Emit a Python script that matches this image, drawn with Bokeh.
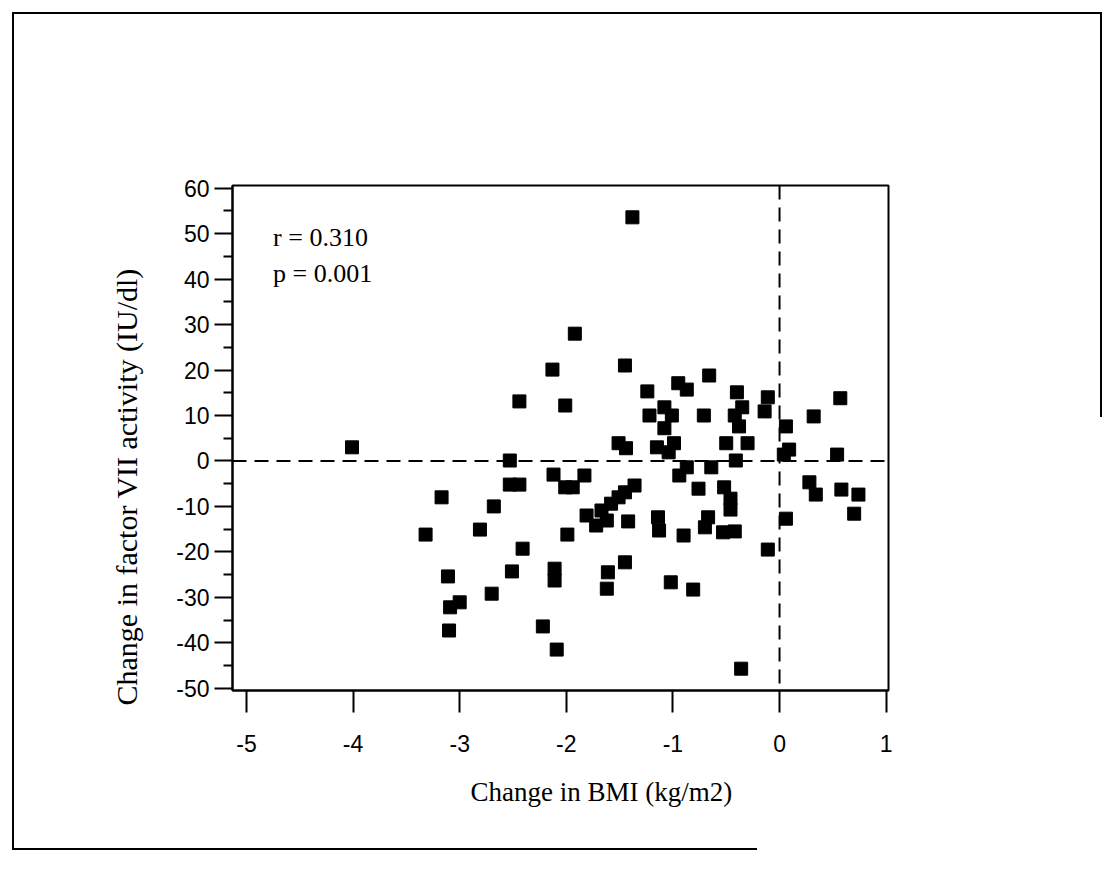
import math
from bokeh.plotting import figure
from bokeh.models import Span, Label, FixedTicker, InlineStyleSheet, Title
from bokeh.embed import file_html
from bokeh.resources import INLINE

# ---- data ----
bmi_change = [
    -1.38, -1.92, -2.13, -1.45, -2.44, -2.01, -1.24, -0.95, -0.87, -1.22,
    -1.08, -1.01, -1.08, -0.66, -0.40, -0.35, -0.42, -0.38, -0.11, -0.14,
    0.06, 0.32, 0.57, -0.71, -4.01, -2.53, -2.53, -2.44, -3.17, -2.68,
    -3.32, -2.81, -3.11, -2.70, -3.00, -3.09, -3.10, -2.41, -2.51, -2.12,
    -1.83, -2.01, -1.94, -1.51, -1.44, -1.15, -1.04, -0.99, -0.87, -0.94,
    -0.76, -1.36, -1.45, -1.51, -1.58, -1.67, -1.81, -1.72, -1.62, -1.42,
    -1.99, -1.14, -1.13, -0.90, -2.11, -2.11, -1.45, -1.61, -1.62, -1.02,
    -0.81, -2.22, -2.09, -0.50, -0.30, -0.41, -0.64, 0.09, 0.04, 0.54,
    -0.52, -0.46, -0.46, 0.28, 0.34, 0.58, 0.74, 0.70, 0.06, -0.67,
    -0.70, -0.53, -0.42, -0.11, -0.36,
]
f7_change = [
    53.6, 28.0, 20.1, 21.0, 13.1, 12.2, 15.3, 17.1, 15.7, 10.0,
    11.8, 10.0, 7.2, 18.8, 15.1, 11.8, 10.0, 7.6, 14.0, 10.9,
    7.6, 9.8, 13.8, 10.0, 3.0, 0.1, -5.2, -5.2, -8.0, -10.0,
    -16.2, -15.1, -25.4, -29.2, -31.1, -32.2, -37.3, -19.3, -24.3, -3.0,
    -3.2, -5.8, -5.8, 3.9, 2.8, 3.0, 1.9, 3.9, -1.4, -3.2,
    -6.1, -5.4, -6.9, -8.0, -9.4, -10.9, -12.0, -14.2, -13.1, -13.3,
    -16.2, -12.4, -15.3, -16.4, -23.7, -26.3, -22.3, -24.5, -28.1, -26.7,
    -28.3, -36.4, -41.5, 3.9, 3.9, 0.1, -1.4, 2.5, 1.4, 1.4,
    -5.8, -8.3, -10.7, -4.7, -7.4, -6.3, -7.4, -11.6, -12.7, -12.4,
    -14.6, -15.7, -15.5, -19.5, -45.7,
]
x_ticks = [-5, -4, -3, -2, -1, 0, 1]
x_tick_labels = ["-5", "-4", "-3", "-2", "-1", "0", "1"]
y_ticks = [-50, -40, -30, -20, -10, 0, 10, 20, 30, 40, 50, 60]
y_tick_labels = ["-50", "-40", "-30", "-20", "-10", "0", "10", "20", "30", "40", "50", "60"]
x_title = "Change in BMI (kg/m2)"
y_title = "Change in factor VII activity (IU/dl)"
stat_lines = ["r = 0.310", "p = 0.001"]

SERIF = "Liberation Serif"
SANS = "Liberation Sans"

p = figure(width=1112, height=872, x_range=(-5.131, 1.022), y_range=(-50.5, 60.6),
           output_backend="svg", toolbar_location=None,
           min_border_left=232, min_border_right=224, min_border_top=185, min_border_bottom=182)
p.background_fill_color = "white"
p.border_fill_color = "white"
p.xgrid.visible = False
p.ygrid.visible = False
p.outline_line_color = "black"
p.outline_line_width = 2

p.scatter(bmi_change, f7_change, marker="square", size=13, fill_color="black", line_color="black")

p.add_layout(Span(location=0, dimension="height", line_color="black", line_width=2, line_dash="14 8"))
p.add_layout(Span(location=0, dimension="width", line_color="black", line_width=2, line_dash="14 8"))

xa = p.xaxis[0]
xa.ticker = FixedTicker(ticks=x_ticks)
xa.major_label_overrides = {t: s for t, s in zip(x_ticks, x_tick_labels)}
xa.axis_line_width = 2
xa.major_tick_line_width = 2
xa.major_tick_in = 0
xa.major_tick_out = 22
xa.minor_tick_line_color = None
xa.major_label_standoff = 22
xa.major_label_text_font = SANS
xa.major_label_text_font_size = "23px"
xa.major_label_text_color = "black"

ya = p.yaxis[0]
ya.ticker = FixedTicker(ticks=y_ticks, minor_ticks=[t + 5 for t in y_ticks[:-1]])
ya.major_label_overrides = {t: s for t, s in zip(y_ticks, y_tick_labels)}
ya.axis_line_width = 2
ya.major_tick_line_width = 2
ya.minor_tick_line_width = 2
ya.major_tick_in = 0
ya.major_tick_out = 18
ya.minor_tick_in = 0
ya.minor_tick_out = 9
ya.major_label_standoff = 5
ya.major_label_text_font = SANS
ya.major_label_text_font_size = "23px"
ya.major_label_text_color = "black"

p.add_layout(Title(text=x_title, align="left", offset=238, text_font=SERIF, text_font_size="27px",
                   text_font_style="normal", text_color="black", standoff=40), "below")
p.add_layout(Title(text=y_title, align="left", offset=-15, text_font=SERIF, text_font_size="30px",
                   text_font_style="normal", text_color="black", standoff=62), "left")

p.add_layout(Label(x=-4.75, y=49.2, text=stat_lines[0], text_font=SERIF, text_font_size="26px",
                   text_baseline="alphabetic", text_color="black"))
p.add_layout(Label(x=-4.75, y=41.3, text=stat_lines[1], text_font=SERIF, text_font_size="26px",
                   text_baseline="alphabetic", text_color="black"))

css = InlineStyleSheet(css="""
:host { position: relative; }
:host::before { content: ""; position: absolute; left: 12px; top: 12px; width: 743px; height: 836px;
  border-left: 2px solid #000; border-bottom: 2px solid #000; pointer-events: none; z-index: 10; }
:host::after { content: ""; position: absolute; left: 12px; top: 12px; width: 1088px; height: 403px;
  border-top: 2px solid #000; border-right: 2px solid #000; pointer-events: none; z-index: 10; }
""")
p.stylesheets.append(css)

open("out.html", "w").write(file_html(p, INLINE))
